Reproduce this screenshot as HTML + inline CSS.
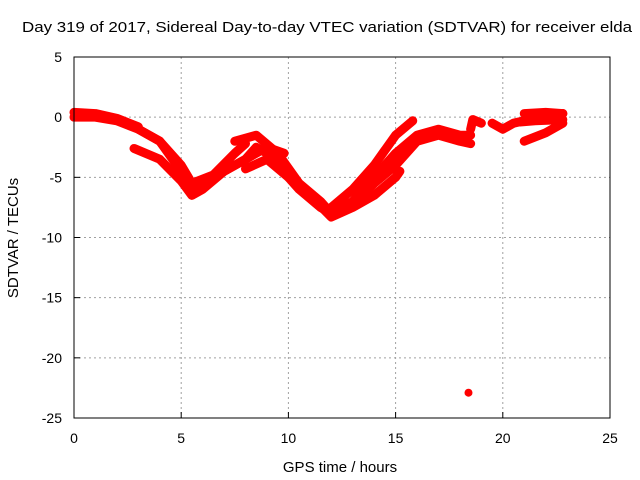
<!DOCTYPE html>
<html><head><meta charset="utf-8"><style>
body{margin:0;background:#fff;}
svg{display:block;font-family:"Liberation Sans",sans-serif;}
</style></head><body>
<svg id="c" width="640" height="480">
<text x="22" y="32" font-size="15" textLength="610" lengthAdjust="spacingAndGlyphs">Day 319 of 2017, Sidereal Day-to-day VTEC variation (SDTVAR) for receiver elda</text>
<text x="340" y="472" font-size="15" text-anchor="middle">GPS time / hours</text>
<text transform="translate(18,238) rotate(-90)" font-size="15" text-anchor="middle">SDTVAR / TECUs</text>
<g id="grid"></g><g id="ticks"></g><g id="marks"></g>
<rect x="74" y="57" width="536" height="361" fill="none" stroke="#000" stroke-width="1"/>
</svg>
<script>
const xTicks=[0,5,10,15,20,25];
const yTicks=[5,0,-5,-10,-15,-20,-25];
const band1=[[0,0],[1,0],[2,-0.3],[3,-1],[4,-2],[5,-4.5],[5.6,-6],[6.2,-5.5],[7,-4.5],[8,-3.5],[8.5,-2.5],[9,-3],[9.5,-4],[10.5,-6],[11.5,-7.5],[12,-8],[13,-7],[14,-5],[15,-3],[16,-1.5],[17,-1],[18,-1.5],[18.5,-1.5]];
const band1b=[[0,0.4],[1,0.3],[2,-0.1],[3,-0.8]];
const band2=[[2.8,-2.6],[4,-3.5],[5,-5.3],[5.5,-6.5],[6,-6],[7,-4.5],[8,-3.5],[9,-2.5],[9.8,-3]];
const band3=[[3,-1],[4,-2],[5,-4],[5.5,-5.5],[6.5,-4.8],[7.5,-3],[8,-2.2]];
const band4=[[7.5,-2],[8.5,-1.5],[9.5,-3],[10.5,-5.5],[11.5,-7],[12,-8]];
const band5=[[8,-4.3],[9,-3.5],[10,-5],[11,-6.5],[12,-8.3],[13,-7.5],[14,-6.5],[15,-5],[15.2,-4.5]];
const band6=[[12,-7.5],[13,-6],[14,-4],[15,-1.5],[15.8,-0.3]];
const band7=[[13,-7.3],[14,-5.5],[15,-4],[16,-2],[17,-1.5],[18,-2],[18.5,-2.2]];
const band8=[[18.5,-1],[18.6,-0.2],[19,-0.5]];
const band9=[[19.5,-0.5],[20,-1],[20.5,-0.5],[21,-0.3],[22,0],[22.8,0.3]];
const band10=[[21,0.3],[22,0.4],[22.8,0.3]];
const band10b=[[20.8,-0.4],[21.5,-0.3],[22.8,-0.2]];
const band11=[[21,-2],[22,-1.3],[22.8,-0.5]];
const outlier=[[18.4,-22.9]];
const bands=[band1,band1b,band2,band3,band4,band5,band6,band7,band8,band9,band10,band10b,band11];
const X=h=>74+h*536/25, Y=v=>57+(5-v)*361/30;
const NS="http://www.w3.org/2000/svg";
function mk(t,a,p){const e=document.createElementNS(NS,t);for(const k in a)e.setAttribute(k,a[k]);p.appendChild(e);return e;}
const g=document.getElementById('grid'),tk=document.getElementById('ticks'),m=document.getElementById('marks');
xTicks.forEach(t=>{const x=X(t);
 if(t>0&&t<25){const l=mk('line',{x1:x,x2:x,y1:57,y2:418,stroke:'#a0a0a0','stroke-dasharray':'2,3'},g);
 
 }
 const s=mk('text',{x:x,y:443,'font-size':14,'text-anchor':'middle'},tk);s.textContent=t;
 
 
 mk('line',{x1:x,x2:x,y1:418,y2:412,stroke:'#000'},tk);});
yTicks.forEach(t=>{const y=Y(t);
 if(t<5&&t>-25){const l=mk('line',{x1:74,x2:610,y1:y,y2:y,stroke:'#a0a0a0','stroke-dasharray':'2,3'},g);
 
 }
 const s=mk('text',{x:62,y:y+5,'font-size':14,'text-anchor':'end'},tk);s.textContent=t;
 
 
 mk('line',{x1:74,x2:80,y1:y,y2:y,stroke:'#000'},tk);});
bands.forEach((b,i)=>{const p=mk('polyline',{points:b.map(d=>X(d[0])+','+Y(d[1])).join(' '),fill:'none',stroke:'#ff0000','stroke-width':9,'stroke-linejoin':'round','stroke-linecap':'round'},m);
 
 });
outlier.forEach(d=>{const c=mk('circle',{cx:X(d[0]),cy:Y(d[1]),r:4,fill:'#ff0000'},m);
 
 });
</script>
</body></html>
